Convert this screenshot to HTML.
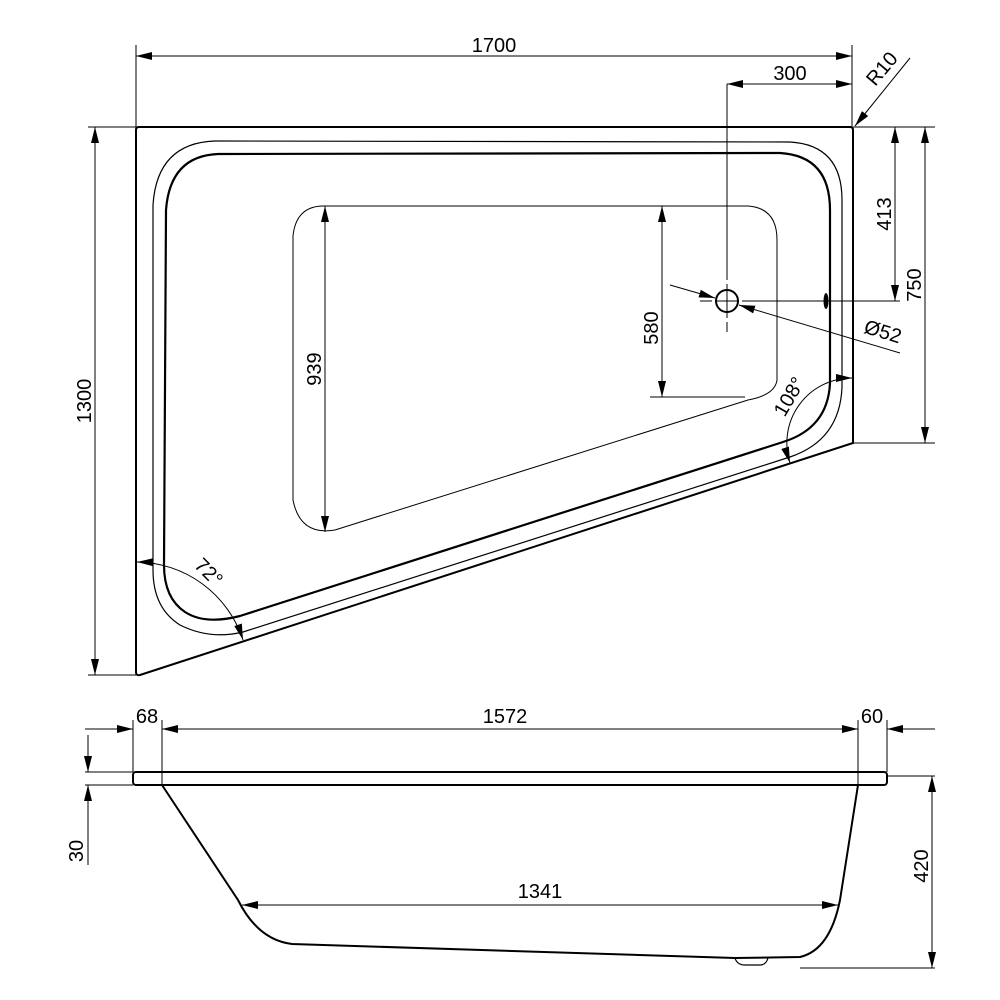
<!DOCTYPE html>
<html><head><meta charset="utf-8"><style>
html,body{margin:0;padding:0;background:#fff}
svg{display:block}
text{font-family:"Liberation Sans",sans-serif;font-size:20px;fill:#000}
</style></head><body>
<svg width="1000" height="1000" viewBox="0 0 1000 1000" xmlns="http://www.w3.org/2000/svg">
<defs>
<marker id="a" viewBox="0 0 16 8" refX="16" refY="4" markerWidth="16" markerHeight="8" markerUnits="userSpaceOnUse" orient="auto-start-reverse"><path d="M0,0 L16,4 L0,8 Z" fill="#000"/></marker>
</defs>
<g fill="none" stroke="#000">
<path d="M139,127 L850,127 Q853,127 853,130 L853,443 L140,675 Q136,676 136,672 L136,130 Q136,127 139,127 Z" stroke-width="2"/>
<path d="M215,141 L790,142 Q842,145 842,200 L842,387 Q840,440 790,457 L243,632 Q210,640 180,625 Q153,608 153,570 L153,205 Q157,143 215,141 Z" stroke-width="1.2"/>
<path d="M218,154 L780,153 Q830,156 830,210 L830,383 Q828,428 783,442 L240,616 Q205,625 185,612 Q164,598 164,565 L166,210 Q170,156 218,154 Z" stroke-width="2.2"/>
<path d="M322,206 L748,206 Q777,208 777,240 L777,380 Q775,395 748,400 L335,530 Q300,536 293,500 L293,236 Q296,207 322,206 Z" stroke-width="1"/>
<circle cx="727" cy="301" r="11" stroke-width="2"/>
<ellipse cx="826" cy="301" rx="2.5" ry="8" fill="#000" stroke="none"/>
<g stroke-width="1">
<path d="M700,301 H712 M716,301 H738 M742,301 H760 M727,84 V280 M727,284 V318 M727,322 V332"/>
<path d="M136,45 V127 M852,45 V127"/>
<path d="M136,56 H852" marker-start="url(#a)" marker-end="url(#a)"/>
<path d="M727,84 H852" marker-start="url(#a)" marker-end="url(#a)"/>
<path d="M910,58 L855,126" marker-end="url(#a)"/>
<path d="M853,127 H935 M760,301 H900 M853,443 H935"/>
<path d="M895,127 V301" marker-start="url(#a)" marker-end="url(#a)"/>
<path d="M925,127 V443" marker-start="url(#a)" marker-end="url(#a)"/>
<path d="M670,285 L715,298" marker-end="url(#a)"/>
<path d="M900,353 L739,305" marker-end="url(#a)"/>
<path d="M88,127 H136 M88,675 H136"/>
<path d="M95,127 V675" marker-start="url(#a)" marker-end="url(#a)"/>
<path d="M325,206 V532" marker-start="url(#a)" marker-end="url(#a)"/>
<path d="M650,397 H745"/>
<path d="M662,206 V397" marker-start="url(#a)" marker-end="url(#a)"/>
<path d="M137,562 A113,113 0 0 1 243,640" marker-start="url(#a)" marker-end="url(#a)"/>
<path d="M852,378 A65,65 0 0 0 790,463" marker-start="url(#a)" marker-end="url(#a)"/>
</g>
<rect x="133" y="772" width="754" height="13" rx="3" stroke-width="2"/>
<path d="M162,785 L238,900 Q258,940 292,944 L735,958 L800,957 Q830,950 840,900 L858,785" stroke-width="2"/>
<path d="M735,958 Q737,965 745,965 L760,965 Q766,965 768,958" stroke-width="1.2"/>
<g stroke-width="1">
<path d="M133,720 V772 M162,720 V785 M858,720 V785 M887,720 V772"/>
<path d="M85,729 H133" marker-end="url(#a)"/>
<path d="M162,729 H858" marker-start="url(#a)" marker-end="url(#a)"/>
<path d="M935,729 H887" marker-end="url(#a)"/>
<path d="M85,772 H133 M85,785 H133 M887,776 H935 M800,968 H935"/>
<path d="M88,735 V772" marker-end="url(#a)"/>
<path d="M88,865 V785" marker-end="url(#a)"/>
<path d="M932,776 V968" marker-start="url(#a)" marker-end="url(#a)"/>
<path d="M242,905 H838" marker-start="url(#a)" marker-end="url(#a)"/>
</g>
</g>
<g>
<text x="494" y="52" text-anchor="middle">1700</text>
<text x="790" y="80" text-anchor="middle">300</text>
<text transform="translate(887,73) rotate(-50)" text-anchor="middle">R10</text>
<text transform="translate(891,214) rotate(-90)" text-anchor="middle">413</text>
<text transform="translate(921,285) rotate(-90)" text-anchor="middle">750</text>
<text transform="translate(881,338) rotate(17)" text-anchor="middle">Ø52</text>
<text transform="translate(91,401) rotate(-90)" text-anchor="middle">1300</text>
<text transform="translate(321,369) rotate(-90)" text-anchor="middle">939</text>
<text transform="translate(658,328) rotate(-90)" text-anchor="middle">580</text>
<text transform="translate(204,577) rotate(45)" text-anchor="middle">72°</text>
<text transform="translate(795,400) rotate(-60)" text-anchor="middle">108°</text>
<text x="147" y="723" text-anchor="middle">68</text>
<text x="505" y="723" text-anchor="middle">1572</text>
<text x="872" y="723" text-anchor="middle">60</text>
<text transform="translate(83,851) rotate(-90)" text-anchor="middle">30</text>
<text transform="translate(928,866) rotate(-90)" text-anchor="middle">420</text>
<text x="540" y="898" text-anchor="middle">1341</text>
</g>
</svg>
</body></html>
